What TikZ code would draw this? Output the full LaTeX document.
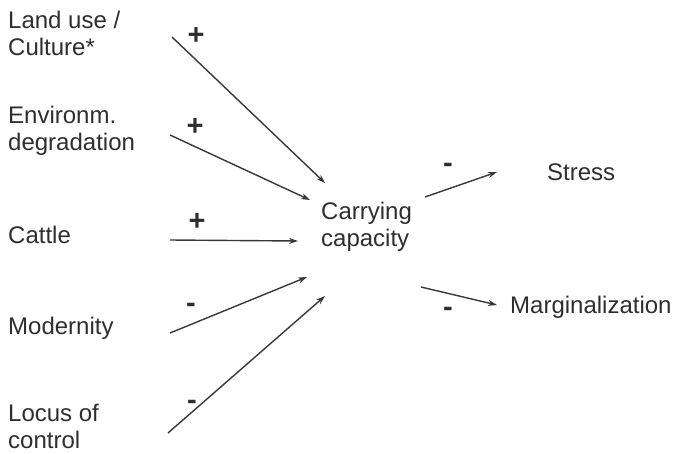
\documentclass[tikz,border=0pt]{standalone}
\usepackage{fontspec}
\setmainfont{Liberation Sans}
\usetikzlibrary{arrows.meta}
\definecolor{ink}{HTML}{2E2E2E}
\definecolor{wire}{HTML}{383838}

\tikzset{
  factor/.style={anchor=west,inner sep=0pt,align=left,text=ink,font=\fontsize{24}{27}\selectfont},
  effect/.style={inner sep=0pt,align=left,text=ink,font=\fontsize{24}{27}\selectfont},
  sign/.style={inner sep=0pt,text=ink,font=\bfseries\fontsize{29}{29}\selectfont},
  link/.style={-{Stealth[length=9pt,width=6pt]},line width=1.4pt,wire}
}

\begin{document}
\begin{tikzpicture}[x=1pt,y=-1pt]
    \useasboundingbox (0,0) rectangle (683,453);
    % drivers on the left
    \node[factor] (land) at (8,33) {Land use /\\Culture*};
    \node[factor] (env) at (8,131) {Environm.\\degradation};
    \node[factor] (cattle) at (8,235) {Cattle};
    \node[factor] (modern) at (8,328) {Modernity};
    \node[factor] (locus) at (8,426) {Locus of\\control};
    % centre and outcomes
    \node[effect,anchor=west] (cc) at (321,227) {Carrying\\capacity};
    \node[effect,anchor=west] (stress) at (547,172) {Stress};
    \node[effect,anchor=west] (margin) at (510,307) {Marginalization};
    % arrow ends
    \coordinate (land-o) at (172,37);   \coordinate (cc-a) at (325,183);
    \coordinate (env-o) at (170,135);   \coordinate (cc-b) at (310,200);
    \coordinate (cattle-o) at (170,240); \coordinate (cc-c) at (298,241);
    \coordinate (modern-o) at (170,333); \coordinate (cc-d) at (307,277);
    \coordinate (locus-o) at (168,433); \coordinate (cc-e) at (325,296);
    \coordinate (cc-f) at (425,197); \coordinate (stress-i) at (497,172);
    \coordinate (cc-g) at (421,287); \coordinate (margin-i) at (497,305);
    \draw[link] (land-o) -- (cc-a);
    \draw[link] (env-o) -- (cc-b);
    \draw[link] (cattle-o) -- (cc-c);
    \draw[link] (modern-o) -- (cc-d);
    \draw[link] (locus-o) -- (cc-e);
    \draw[link] (cc-f) -- (stress-i);
    \draw[link] (cc-g) -- (margin-i);
    % signs
    \node[sign] (s1) at (196,36) {+};
    \node[sign] (s2) at (195,127) {+};
    \node[sign] (s3) at (197,222) {+};
    \node[sign] (s4) at (191,308) {-};
    \node[sign] (s5) at (192,405) {-};
    \node[sign] (s6) at (448,168) {-};
    \node[sign] (s7) at (448,312) {-};
\end{tikzpicture}
\end{document}
